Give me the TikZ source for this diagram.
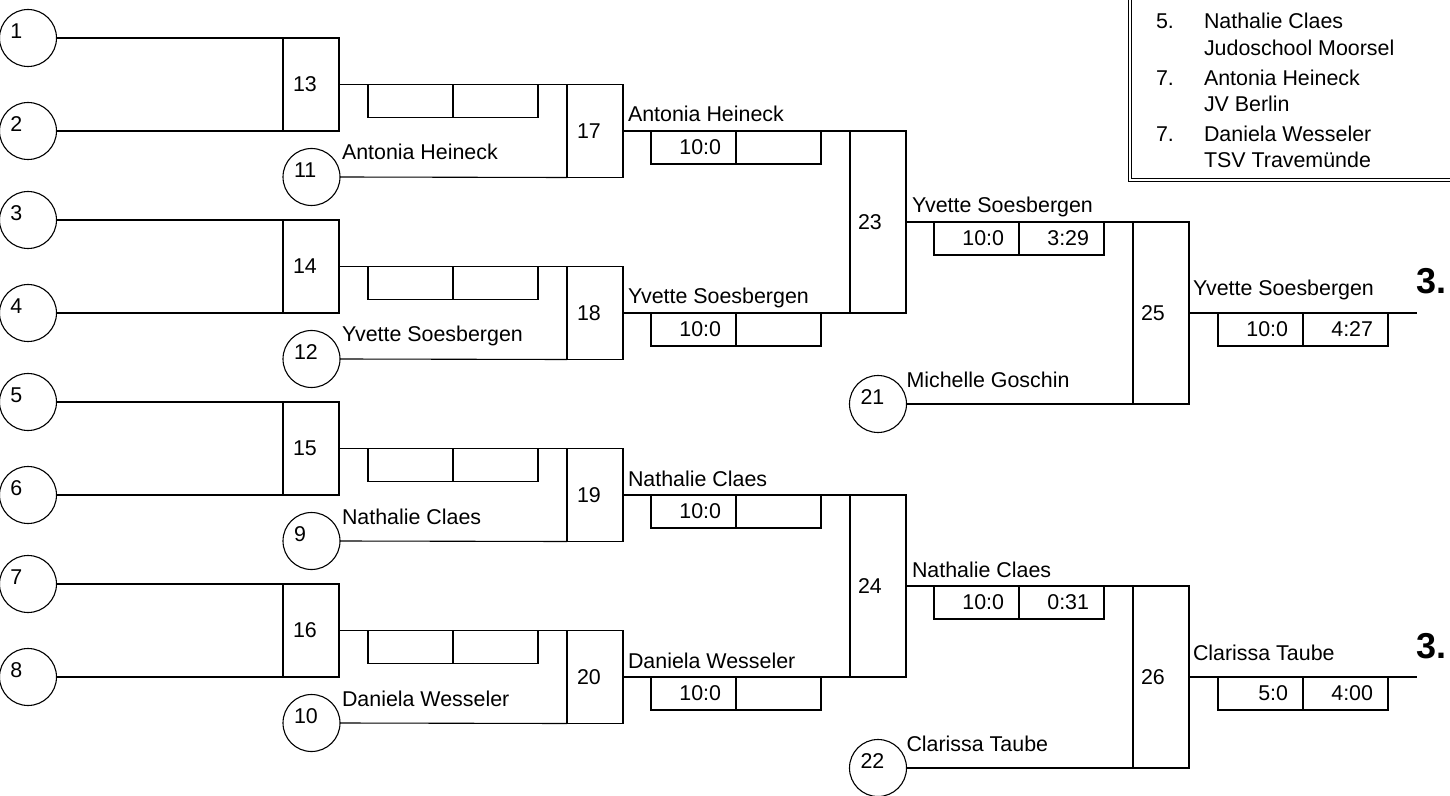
\documentclass[tikz,border=0pt]{standalone}
\usepackage{fontspec}
\setmainfont{Liberation Sans}
\usetikzlibrary{positioning}

\begin{document}
\begin{tikzpicture}[x=0.5pt,y=-0.5pt,line width=0.55pt,
  every node/.style={font=\fontsize{10.7}{12}\selectfont, inner sep=0pt, outer sep=0pt},
  seedcircle/.style={draw, circle, minimum size=28.5pt},
  match/.style={draw, anchor=north west, minimum width=28pt, minimum height=#1},
  scorecell/.style={draw, minimum height=16.5pt, text width=27.5pt, inner xsep=7.5pt, align=right},
  idx/.style={anchor=west},
  player/.style={anchor=base west}]
  \useasboundingbox (0,0) rectangle (1450,796);
  \clip (0,0) rectangle (1450,796);

  % first round seeds
  \foreach \i/\y in {1/38,2/131,3/220,4/313,5/402,6/495,7/584,8/677} {
    \node[seedcircle] (c\i) at (28,\y) {};
    \node[idx] (c\i n) at ([shift={(11,-6.5)}]c\i.west) {\i};
  }

  % first and second round
  \foreach \g/\a/\b/\m/\n/\s/\who in {
    0/1/2/13/17/11/Antonia Heineck,
    1/3/4/14/18/12/Yvette Soesbergen,
    2/5/6/15/19/9/Nathalie Claes,
    3/7/8/16/20/10/Daniela Wesseler
  } {
    \pgfmathsetmacro\y{38+182*\g}
    \node[match=46.5pt] (b\m) at (283,\y) {};
    \node[idx] (b\m n) at ([shift={(10,0)}]b\m.west) {\m};
    \draw (c\a.east) -- (b\m.north west);
    \draw (c\b.east) -- (b\m.south west);
    \node[scorecell, anchor=north west] (r\m a) at ([shift={(29,0)}]b\m.east) {};
    \node[scorecell, anchor=west] (r\m b) at (r\m a.east) {};

    \node[seedcircle] (c\s) at (311.5,\y+139) {};
    \node[idx] (c\s n) at ([shift={(11,-6.5)}]c\s.west) {\s};
    \node[player] (p\s) at ([shift={(2,-17)}]c\s.east) {\who};

    \node[match=46.5pt] (b\n) at (567,\y+46.5) {};
    \node[idx] (b\n n) at ([shift={(10,0)}]b\n.west) {\n};
    \draw (b\m.east) -- (b\n.north west);
    \draw (c\s.east) -- (b\n.south west);
    \node[player] (w\n) at ([shift={(5,-9)}]b\n.east) {\who};
    \node[scorecell, anchor=north west] (r\n a) at ([shift={(28,0)}]b\n.east) {10:0};
    \node[scorecell, anchor=west] (r\n b) at (r\n a.east) {};
  }

  % semifinals and bronze fights
  \foreach \h/\p/\q/\m/\n/\s/\late/\wm/\ma/\mb/\wn/\na/\nb in {
    0/17/18/23/25/21/Michelle Goschin/Yvette Soesbergen/10:0/3:29/Yvette Soesbergen/10:0/4:27,
    1/19/20/24/26/22/Clarissa Taube/Nathalie Claes/10:0/0:31/Clarissa Taube/5:0/4:00
  } {
    \node[match=91pt] (b\m) at (850,131+364*\h) {};
    \node[idx] (b\m n) at ([shift={(8,0)}]b\m.west) {\m};
    \draw (b\p.east) -- (b\m.north west);
    \draw (b\q.east) -- (b\m.south west);
    \node[player] (w\m) at ([shift={(6,-9)}]b\m.east) {\wm};
    \node[scorecell, anchor=north west] (r\m a) at ([shift={(28,0)}]b\m.east) {\ma};
    \node[scorecell, anchor=west] (r\m b) at (r\m a.east) {\mb};

    \node[seedcircle] (c\s) at (878,404+364*\h) {};
    \node[idx] (c\s n) at ([shift={(11,-6.5)}]c\s.west) {\s};
    \node[player] (p\s) at ([shift={(0,-17)}]c\s.east) {\late};

    \node[match=91pt] (b\n) at (1133,222+364*\h) {};
    \node[idx] (b\n n) at ([shift={(8,0)}]b\n.west) {\n};
    \draw (b\m.east) -- (b\n.north west);
    \draw (c\s.east) -- (b\n.south west);
    \coordinate (end\n) at ([shift={(228,0)}]b\n.east);
    \draw (b\n.east) -- (end\n);
    \node[player] (w\n) at ([shift={(4,-17)}]b\n.east) {\wn};
    \node[scorecell, anchor=north west] (r\n a) at ([shift={(29,0)}]b\n.east) {\na};
    \node[scorecell, anchor=west] (r\n b) at (r\n a.east) {\nb};
    \node[player, font=\fontsize{18}{20}\selectfont\bfseries] (place\n) at ([shift={(-1,-19)}]end\n) {3.};
  }

  % ranking box
  \draw[double, double distance=1pt, line width=0.5pt] (1129.5,-20) |- (1480,180.5);
  \foreach \y/\t [count=\k] in {29/5.,86/7.,142/7.}
    \node[player] (rk\k) at (1156,\y) {\t};
  \foreach \y/\t [count=\k] in {29/Nathalie Claes,56/Judoschool Moorsel,86/Antonia Heineck,
                               112/JV Berlin,142/Daniela Wesseler,168/TSV Travemünde}
    \node[player] (lg\k) at (1204,\y) {\t};
\end{tikzpicture}
\end{document}
